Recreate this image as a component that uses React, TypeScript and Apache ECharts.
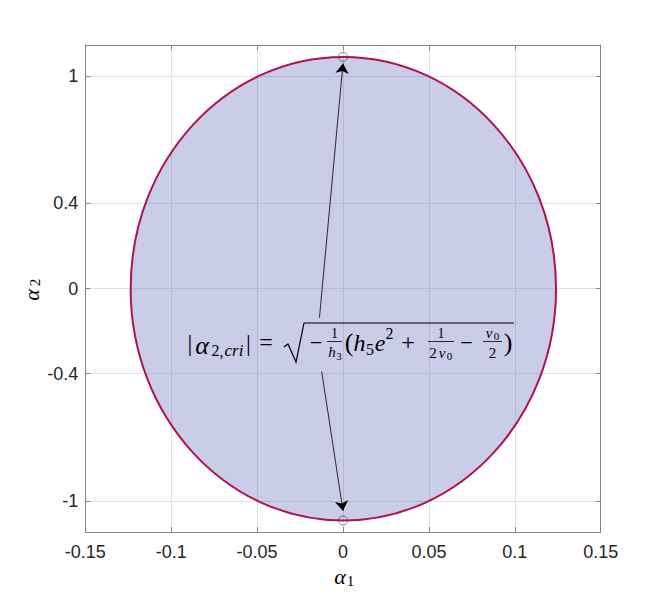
import React, { useEffect, useRef } from "react";
import * as echarts from "echarts";

// Critical region boundary: an ellipse (centre and semi-axes, data units)
const ellipseCenter = [0.0002, -0.001];
const ellipseSemiAxes = [0.1238, 1.09];
// Critical points (open circles)
const critX = [0, 0];
const critY = [1.089, -1.091];
// Arrows: tail -> head
const arrowFromX = [-0.0137, -0.0124];
const arrowFromY = [-0.137, -0.39];
const arrowToX = [0, 0];
const arrowToY = [1.058, -1.046];

const yTicks = [-1, -0.4, 0, 0.4, 1];
const xRange = [-0.15, 0.15];
const yRange = [-1.145, 1.145];

const MF = "Liberation Serif, DejaVu Serif, serif";
const AF = "Liberation Sans, Arial, Helvetica, sans-serif";

function t(text: string, x: number, y: number, size: number, italic = false) {
  return {
    type: "text",
    x,
    y,
    silent: true,
    z: 100,
    style: {
      text,
      font: `${italic ? "italic" : "normal"} normal ${size}px ${MF}`,
      fill: "#000",
      textAlign: "center",
      textVerticalAlign: "middle",
    },
  };
}
function ln(x1: number, y1: number, x2: number, y2: number, w = 1) {
  return {
    type: "line",
    silent: true,
    z: 100,
    shape: { x1, y1, x2, y2 },
    style: { stroke: "#000", lineWidth: w },
  };
}

export default function App() {
  const ref = useRef<HTMLDivElement>(null);
  useEffect(() => {
    if (!ref.current) return;
    const chart = echarts.init(ref.current, null, { renderer: "svg" });
    const axisColor = "#858585";
    const gridColor = "#e3e3e3";
    const formula: any[] = [
      t("|", 190, 343, 24),
      t("α", 202, 345, 26, true),
      t("2", 215.5, 350, 16),
      t(",", 221.5, 351, 16),
      t("cri", 234, 350, 17, true),
      t("|", 248.5, 343, 24),
      t("=", 266, 342, 24),
      {
        type: "polyline",
        silent: true,
        z: 100,
        shape: { points: [[284, 347], [288, 344], [296, 362], [304, 323], [514, 323]] },
        style: { stroke: "#000", lineWidth: 1.2, fill: null },
      },
      t("−", 316, 342, 22),
      t("1", 334.5, 333, 14),
      ln(327, 341.5, 342, 341.5, 0.8),
      t("h", 332, 352, 15, true),
      t("3", 339, 356, 11),
      t("(", 349, 342, 26),
      t("h", 359.5, 343, 24, true),
      t("5", 370, 349, 16),
      t("e", 380, 343, 24, true),
      t("2", 389.5, 333, 16),
      t("+", 408, 342, 24),
      t("1", 441, 333, 14),
      ln(428, 341.5, 454, 341.5, 0.8),
      t("2", 433, 353, 15),
      t("ν", 442, 353, 15, true),
      t("0", 449.5, 356, 11),
      t("−", 466.5, 342, 22),
      t("ν", 489, 333, 15, true),
      t("0", 496.5, 336, 11),
      ln(483, 341.5, 502, 341.5, 0.8),
      t("2", 492.5, 353, 15),
      t(")", 508, 342, 26),
    ];
    const axisNames: any[] = [
      t("α", 340, 576, 22, true),
      t("1", 350.5, 581, 15),
      {
        type: "group",
        x: 31,
        y: 290,
        rotation: Math.PI / 2,
        children: [t("α", -5, 0, 22, true), t("2", 7.5, 4, 15)],
      },
    ];
    chart.setOption({
      animation: false,
      backgroundColor: "#fff",
      grid: { left: 85.3, top: 45, right: 63.3, bottom: 67, containLabel: false },
      xAxis: [
        {
          type: "value",
          min: xRange[0],
          max: xRange[1],
          interval: 0.05,
          axisLine: { show: true, onZero: false, lineStyle: { color: axisColor, width: 1 } },
          axisTick: { show: true, inside: true, length: 5, lineStyle: { color: axisColor } },
          axisLabel: {
            color: "#262626",
            fontSize: 18,
            fontFamily: AF,
            margin: 11,
            formatter: (v: number) => String(Math.round(v * 100) / 100),
          },
          splitLine: { show: true, lineStyle: { color: gridColor, width: 1 } },
        },
        {
          type: "value",
          position: "top",
          min: xRange[0],
          max: xRange[1],
          interval: 0.05,
          axisLine: { show: true, onZero: false, lineStyle: { color: axisColor, width: 1 } },
          axisTick: { show: true, inside: true, length: 5, lineStyle: { color: axisColor } },
          axisLabel: { show: false },
          splitLine: { show: false },
        },
      ],
      yAxis: [
        {
          type: "value",
          min: yRange[0],
          max: yRange[1],
          axisLine: { show: true, onZero: false, lineStyle: { color: axisColor, width: 1 } },
          axisTick: {
            show: true,
            inside: true,
            length: 5,
            customValues: yTicks,
            lineStyle: { color: axisColor },
          },
          axisLabel: {
            color: "#262626",
            fontSize: 18,
            fontFamily: AF,
            margin: 7,
            customValues: yTicks,
            formatter: (v: number) => String(v),
          },
          splitLine: { show: true, lineStyle: { color: gridColor, width: 1 } },
        },
        {
          type: "value",
          position: "right",
          min: yRange[0],
          max: yRange[1],
          axisLine: { show: true, onZero: false, lineStyle: { color: axisColor, width: 1 } },
          axisTick: {
            show: true,
            inside: true,
            length: 5,
            customValues: yTicks,
            lineStyle: { color: axisColor },
          },
          axisLabel: { show: false, customValues: yTicks },
          splitLine: { show: false },
        },
      ],
      series: [
        {
          type: "custom",
          xAxisIndex: 0,
          yAxisIndex: 0,
          data: [[ellipseCenter[0], ellipseCenter[1], ellipseSemiAxes[0], ellipseSemiAxes[1]]],
          silent: true,
          renderItem: (_p: any, api: any) => {
            const c = api.coord([api.value(0), api.value(1)]);
            const s = api.size([api.value(2), api.value(3)], [api.value(0), api.value(1)]);
            return {
              type: "ellipse",
              shape: { cx: c[0], cy: c[1], rx: s[0], ry: s[1] },
              style: { fill: "rgba(20,40,150,0.23)", stroke: "#b01250", lineWidth: 2 },
            };
          },
        },
        {
          type: "scatter",
          xAxisIndex: 0,
          yAxisIndex: 0,
          silent: true,
          symbol: "circle",
          symbolSize: 9,
          z: 5,
          itemStyle: { color: "rgba(0,0,0,0)", borderColor: "#3a3a3a", borderWidth: 0.8 },
          data: critX.map((x, i) => [x, critY[i]]),
          markLine: {
            silent: true,
            symbol: ["none", "arrow"],
            symbolSize: 10,
            label: { show: false },
            lineStyle: { color: "#000", width: 0.8, type: "solid" },
            emphasis: { disabled: true },
            data: arrowFromX.map((x, i) => [
              { coord: [x, arrowFromY[i]] },
              { coord: [arrowToX[i], arrowToY[i]] },
            ]),
          },
        },
      ],
      graphic: [...formula, ...axisNames],
    });
    return () => chart.dispose();
  }, []);
  return (
    <div
      ref={ref}
      style={{ position: "fixed", left: 0, top: 0, width: 664, height: 599, background: "#fff" }}
    />
  );
}
